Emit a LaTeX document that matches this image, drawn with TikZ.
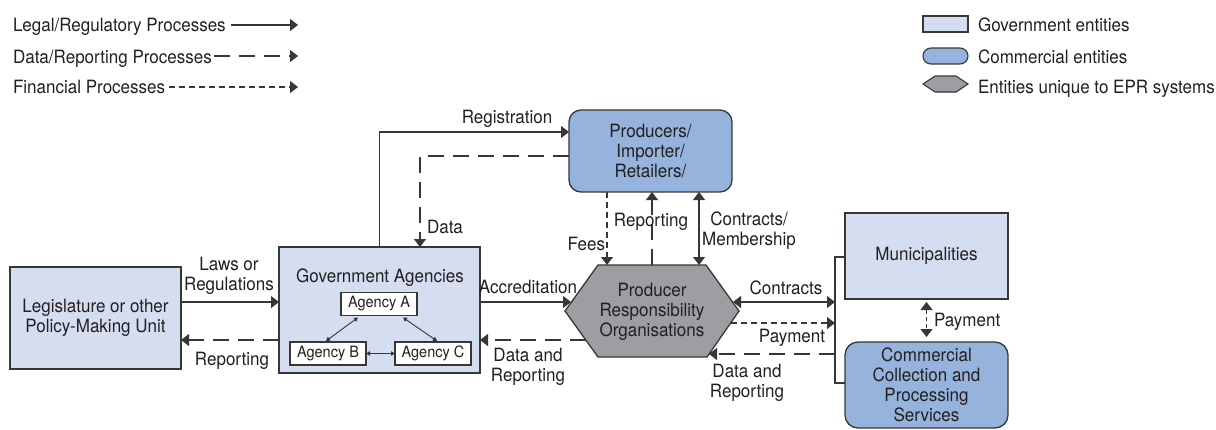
\documentclass[tikz,border=0pt]{standalone}
\usepackage{fontspec}
\setmainfont{TeX Gyre Heros}[FakeStretch=0.93]
\usetikzlibrary{arrows.meta,calc}
\definecolor{govfill}{RGB}{213,221,240}
\definecolor{comfill}{RGB}{149,179,220}
\definecolor{grayfill}{RGB}{157,158,162}
\definecolor{bordc}{RGB}{55,55,55}
\definecolor{txtc}{RGB}{35,31,32}
\newcommand{\lblfont}{\fontsize{18.3}{20}\selectfont}
\newcommand{\agfont}{\fontsize{15.6}{17}\selectfont}
\begin{document}
\begin{tikzpicture}[x=1pt,y=-1pt,
  every node/.style={inner sep=0pt, outer sep=0pt, text=txtc, font=\lblfont},
  govbox/.style={draw=bordc, line width=1.3pt, fill=govfill, align=center},
  combox/.style={draw=bordc, line width=1.3pt, fill=comfill, rounded corners=12pt, align=center},
  agbox/.style={draw=bordc, line width=1.1pt, fill=white, font=\agfont, minimum width=76pt, minimum height=23pt},
  conn/.style={draw=bordc, line width=1.1pt},
  legalline/.style={conn, -{Triangle[length=8pt,width=12pt]}},
  legalboth/.style={conn, {Triangle[length=8pt,width=12pt]}-{Triangle[length=8pt,width=12pt]}},
  dataline/.style={conn, dash pattern=on 16pt off 9pt, -{Triangle[length=8pt,width=12pt]}},
  finline/.style={conn, dash pattern=on 6pt off 4pt, -{Triangle[length=8pt,width=12pt]}},
  finboth/.style={conn, dash pattern=on 4pt off 3pt, {Triangle[length=8pt,width=12pt]}-{Triangle[length=8pt,width=12pt]}},
  smallboth/.style={draw=bordc, line width=0.9pt, {Triangle[length=4pt,width=4.5pt]}-{Triangle[length=4pt,width=4.5pt]}},
  lbl/.style={align=center}
]
\fill[white] (0,0) rectangle (1216,429);
\useasboundingbox (0,0) rectangle (1216,429);

% ---------- legend (left)
\node[anchor=base west] (lg1) at (13,31) {Legal/Regulatory Processes};
\node[anchor=base west] (lg2) at (13,63) {Data/Reporting Processes};
\node[anchor=base west] (lg3) at (13,93) {Financial Processes};
\coordinate (le1) at (298,25);
\coordinate (le2) at (298,56);
\coordinate (le3) at (298,87);
\draw[legalline] ($(lg1.east |- le1)+(5,0)$) -- (le1);
\draw[dataline] ($(lg2.east |- le2)+(2,0)$) -- (le2);
\draw[finline] ($(lg3.east |- le3)+(4,0)$) -- (le3);

% ---------- legend (right)
\node[draw=bordc, line width=1.1pt, fill=govfill, minimum width=45pt, minimum height=16pt] (kg) at (945.5,24) {};
\node[draw=bordc, line width=1.1pt, fill=comfill, rounded corners=8pt, minimum width=45pt, minimum height=16pt] (kc) at (945.5,56) {};
\filldraw[draw=bordc, line width=1.1pt, fill=grayfill] (923,84) -- (935,76) -- (956,76) -- (968,84) -- (956,92) -- (935,92) -- cycle;
\node[anchor=base west] (kgt) at (978,31) {Government entities};
\node[anchor=base west] (kct) at (978,63) {Commercial entities};
\node[anchor=base west] (kht) at (978,93) {Entities unique to EPR systems};

% ---------- main boxes
\node[govbox, minimum width=171pt, minimum height=102pt] (leg) at (95.5,318) {Legislature or other\\Policy-Making Unit};
\node[govbox, minimum width=201pt, minimum height=126pt] (gov) at (379.5,310) {};
\node[anchor=base] (govt) at (380,282) {Government Agencies};
\node[agbox] (aA) at (379,304) {Agency A};
\node[agbox] (aB) at (328,353.5) {Agency B};
\node[agbox] (aC) at (433,353.5) {Agency C};
\node[combox, minimum width=163pt, minimum height=82pt] (prod) at (650.5,151) {Producers/\\Importer/\\Retailers/};
\node[govbox, minimum width=163pt, minimum height=86pt] (mun) at (926.5,256) {Municipalities};
\node[combox, rounded corners=13pt, minimum width=163pt, minimum height=86pt] (com) at (926.5,385) {Commercial\\Collection and\\Processing\\Services};

% ---------- PRO hexagon
\coordinate (hL) at (565,311);
\coordinate (hTL) at (598,265);
\coordinate (hTR) at (706,265);
\coordinate (hR) at (739,311);
\coordinate (hBR) at (707,357);
\coordinate (hBL) at (598,357);
\filldraw[draw=bordc, fill=grayfill, line width=1.3pt] (hL) -- (hTL) -- (hTR) -- (hR) -- (hBR) -- (hBL) -- cycle;
\node[lbl] (pro) at (652,312) {Producer\\Responsibility\\Organisations};
\coordinate (hAcc) at (571,302);
\coordinate (hDRl) at (586,340);
\coordinate (hCon) at (733,302);
\coordinate (hPay) at (731,323);
\coordinate (hDRr) at (709,354);
\coordinate (hFee) at (607,265);
\coordinate (hRep) at (652,265);
\coordinate (hCM) at (699,265);
\coordinate (brT) at (835,257);
\coordinate (brB) at (835,383);

% ---------- agency links
\draw[smallboth] ([xshift=17pt,yshift=-2pt]aA.south west) -- ([xshift=-2pt,yshift=1pt]aB.north);
\draw[smallboth] ([xshift=-14pt,yshift=-2pt]aA.south east) -- ([xshift=4pt,yshift=1pt]aC.north);
\draw[smallboth] (aB.east) -- (aC.west);

% ---------- connectors
\draw[legalline] (leg.east |- hAcc) -- (gov.west |- hAcc);
\draw[dataline] (gov.west |- hDRl) -- (leg.east |- hDRl);
\draw[legalline] (gov.east |- hAcc) -- (hAcc);
\draw[dataline] (hDRl) -- (gov.east |- hDRl);
\draw[legalline] (gov.north) |- ([yshift=19pt]prod.west);
\draw[dataline] ([yshift=-5pt]prod.west) -| ([xshift=40.5pt]gov.north);
\draw[finline] (prod.south -| hFee) -- (hFee);
\draw[dataline] (hRep) -- (prod.south -| hRep);
\draw[legalboth] (prod.south -| hCM) -- (hCM);
\draw[legalboth] (hCon) -- (hCon -| brT);
\draw[finline] (hPay) -- (hPay -| brT);
\draw[dataline] (hDRr -| brT) -- (hDRr);
\draw[conn] (mun.west |- brT) -- (brT) -- (brB) -- (com.west |- brB);
\draw[finboth] ([yshift=-3pt]mun.south) -- ([yshift=5pt]com.north);

% ---------- labels
\node[lbl] (lLaws) at (229,276) {Laws or\\Regulations};
\node[anchor=base] (lRepL) at (232,365) {Reporting};
\node[anchor=base] (lReg) at (507,123) {Registration};
\node[anchor=base west] (lData) at (427,233) {Data};
\node[anchor=base] (lAcc) at (528,293) {Accreditation};
\node[lbl] (lDRl) at (528,367) {Data and\\Reporting};
\node[anchor=base east] (lFees) at (605,250) {Fees};
\node[anchor=base] (lRepC) at (651,226) {Reporting};
\node[lbl] (lCM) at (749,231) {Contracts/\\Membership};
\node[anchor=base] (lCon) at (786,294) {Contracts};
\node[anchor=base] (lPay) at (792,342) {Payment};
\node[lbl] (lDRr) at (747,383) {Data and\\Reporting};
\node[anchor=base west] (lPayV) at (934,326) {Payment};
\end{tikzpicture}
\end{document}
